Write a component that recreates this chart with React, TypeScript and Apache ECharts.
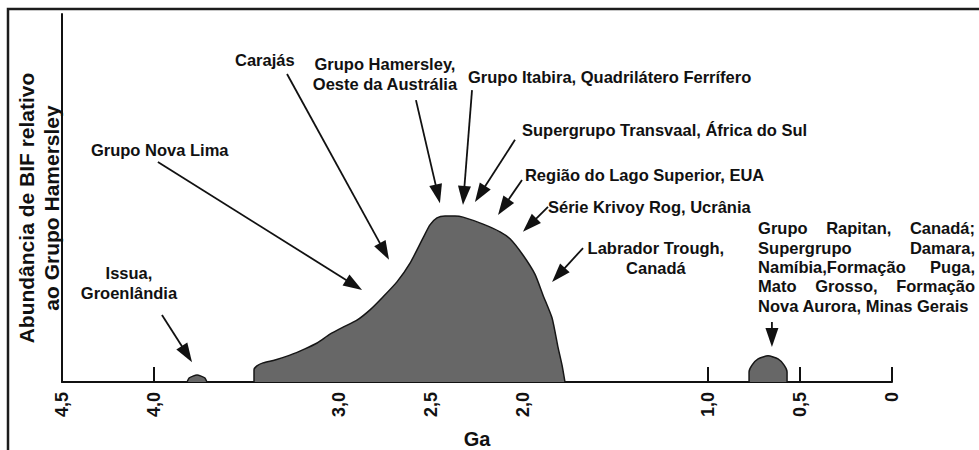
import React, { useEffect, useRef } from 'react';
import * as echarts from 'echarts';

// ---- axis ticks (Ga) ----
const tickValues = [4.5, 4.0, 3.0, 2.5, 2.0, 1.0, 0.5, 0];
const tickLabels = ['4,5', '4,0', '3,0', '2,5', '2,0', '1,0', '0,5', '0'];

// ---- BIF abundance outlines (Ga, relative abundance 0-100) ----
const issuaGa = [3.822, 3.811, 3.79, 3.768, 3.746, 3.725, 3.714];
const issuaAbund = [0, 1.1, 1.6, 1.9, 1.6, 1.1, 0];

const mainGa = [3.459, 3.459, 3.443, 3.41, 3.345, 3.264, 3.183, 3.117, 3.047, 2.976, 2.901, 2.83, 2.76, 2.684, 2.613, 2.543, 2.505, 2.467, 2.423, 2.369, 2.326, 2.217, 2.125, 2.071, 2.001, 1.936, 1.892, 1.843, 1.811, 1.789, 1.773];
const mainAbund = [0, 3.3, 4.4, 5.2, 6.0, 7.3, 9.0, 10.6, 13.0, 14.9, 16.8, 19.6, 23.1, 27.2, 32.3, 39.1, 42.7, 44.6, 45.1, 45.1, 44.8, 42.9, 40.8, 38.9, 34.5, 29.3, 23.6, 17.4, 9.5, 4.6, 0];

const rapitanGa = [0.775, 0.775, 0.759, 0.726, 0.672, 0.618, 0.585, 0.569, 0.569];
const rapitanAbund = [0, 2.7, 4.6, 6.3, 7.1, 6.3, 4.6, 2.7, 0];

// ---- annotations (anchor in Ga / abundance) ----
const labelTexts = [
  'Issua,\nGroenlândia',
  'Grupo Nova Lima',
  'Carajás',
  'Grupo Hamersley,\nOeste da Austrália',
  'Grupo Itabira, Quadrilátero Ferrífero',
  'Supergrupo Transvaal, África do Sul',
  'Região do Lago Superior, EUA',
  'Série Krivoy Rog, Ucrânia',
  'Labrador Trough,\nCanadá',
];
const labelGa = [4.137, 4.343, 3.562, 2.749, 2.299, 2.006, 1.99, 1.865, 1.28];
const labelAbund = [26.9, 63.0, 87.5, 83.6, 82.9, 68.5, 56.3, 47.6, 33.6];
const labelAlign = ['center', 'left', 'left', 'center', 'left', 'left', 'left', 'left', 'center'];

// arrows: from (Ga, abundance) to tip (Ga, abundance)
const arrowFromGa = [3.958, 3.98, 3.28, 2.581, 2.277, 2.044, 2.006, 1.865, 1.675, 0.651];
const arrowFromAbund = [18.2, 59.8, 83.7, 76.6, 79.3, 65.8, 54.9, 47.6, 36.4, 16.3];
const arrowToGa = [3.795, 2.873, 2.727, 2.451, 2.326, 2.261, 2.136, 2.001, 1.843, 0.651];
const arrowToAbund = [5.4, 25.0, 33.2, 48.6, 48.1, 48.9, 45.4, 40.8, 27.2, 9.5];

// justified block for the Neoproterozoic BIFs
const rapitanLines = [
  'Grupo Rapitan, Canadá;',
  'Supergrupo Damara,',
  'Namíbia,Formação Puga,',
  'Mato Grosso, Formação',
  'Nova Aurora, Minas Gerais',
];
const rapitanJustify = [true, true, true, true, false];
const rapitanLeftGa = 0.726;
const rapitanRightGa = -0.45;
const rapitanTopAbund = 41.8;

export default function App() {
  const ref = useRef<HTMLDivElement>(null);

  useEffect(() => {
    const el = ref.current as HTMLDivElement;
    const chart = echarts.init(el, null, { renderer: 'svg' });
    const family = "'Liberation Sans', Arial, Helvetica, sans-serif";
    const ink = '#111111';
    const fill = '#676767';
    const edge = '#161616';
    const annFont = `bold 16.5px ${family}`;

    const blob = (name: string, ga: number[], ab: number[]) => ({
      type: 'line',
      name,
      data: ga.map((g, i) => [g, ab[i]]),
      smooth: 0.2,
      symbol: 'none',
      silent: true,
      z: 3,
      lineStyle: { color: edge, width: 1.5 },
      areaStyle: { color: fill, opacity: 1 },
    });

    chart.setOption({
      animation: false,
      grid: { left: 62, right: 87, top: 14, bottom: 68, outerBoundsMode: 'none' },
      xAxis: {
        type: 'value',
        min: 0,
        max: 4.5,
        inverse: true,
        position: 'bottom',
        name: 'Ga',
        nameLocation: 'middle',
        nameGap: 47,
        nameTextStyle: { fontFamily: family, fontWeight: 'bold', fontSize: 20, color: ink },
        axisLine: { show: true, onZero: false, lineStyle: { color: ink, width: 2 } },
        axisTick: {
          show: true,
          inside: true,
          length: 15,
          customValues: tickValues,
          lineStyle: { color: ink, width: 2 },
        },
        axisLabel: {
          show: true,
          rotate: 90,
          margin: 10,
          customValues: tickValues,
          formatter: (v: number) => {
            const i = tickValues.findIndex((t) => Math.abs(t - v) < 1e-6);
            return i >= 0 ? tickLabels[i] : '';
          },
          fontFamily: family,
          fontWeight: 'bold',
          fontSize: 18,
          color: ink,
        },
        splitLine: { show: false },
      },
      yAxis: {
        type: 'value',
        min: 0,
        max: 100,
        position: 'left',
        axisLine: { show: true, onZero: false, lineStyle: { color: ink, width: 2 } },
        axisTick: { show: false },
        axisLabel: { show: false },
        splitLine: { show: false },
      },
      series: [
        blob('Issua', issuaGa, issuaAbund),
        blob('Paleoproterozoico', mainGa, mainAbund),
        blob('Neoproterozoico', rapitanGa, rapitanAbund),
      ],
    });

    const px = (g: number, a: number) =>
      chart.convertToPixel({ gridIndex: 0 }, [g, a]) as number[];

    const graphics: any[] = [];

    // outer frame
    graphics.push({
      type: 'rect',
      silent: true,
      shape: { x: 8, y: 9, width: 1000, height: 480 },
      style: { fill: 'none', stroke: '#1c1c1c', lineWidth: 2.5 },
    });

    // y axis title
    const yTop = px(0, 100)[1];
    const yBot = px(0, 0)[1];
    graphics.push({
      type: 'text',
      silent: true,
      x: 39,
      y: (yTop + yBot) / 2 + 10,
      rotation: Math.PI / 2,
      style: {
        text: 'Abundância de BIF relativo\nao Grupo Hamersley',
        font: `bold 21px ${family}`,
        fill: ink,
        align: 'center',
        verticalAlign: 'middle',
        lineHeight: 25,
      },
    });

    // annotation labels
    labelTexts.forEach((t, i) => {
      const p = px(labelGa[i], labelAbund[i]);
      graphics.push({
        type: 'text',
        silent: true,
        x: p[0],
        y: p[1],
        style: {
          text: t,
          font: annFont,
          fill: ink,
          align: labelAlign[i],
          verticalAlign: 'middle',
          lineHeight: 20,
        },
      });
    });

    // arrows
    const headLen = 19;
    const headHalf = 6.5;
    arrowFromGa.forEach((_, i) => {
      const a = px(arrowFromGa[i], arrowFromAbund[i]);
      const b = px(arrowToGa[i], arrowToAbund[i]);
      const dx = b[0] - a[0];
      const dy = b[1] - a[1];
      const len = Math.hypot(dx, dy) || 1;
      const ux = dx / len;
      const uy = dy / len;
      const bx = b[0] - ux * headLen;
      const by = b[1] - uy * headLen;
      graphics.push({
        type: 'line',
        silent: true,
        shape: { x1: a[0], y1: a[1], x2: bx + ux * 2, y2: by + uy * 2 },
        style: { stroke: ink, lineWidth: 1.8 },
      });
      graphics.push({
        type: 'polygon',
        silent: true,
        shape: {
          points: [
            [b[0], b[1]],
            [bx - uy * headHalf, by + ux * headHalf],
            [bx + uy * headHalf, by - ux * headHalf],
          ],
        },
        style: { fill: ink },
      });
    });

    // justified Rapitan block
    const canvas = document.createElement('canvas');
    const ctx = canvas.getContext('2d') as CanvasRenderingContext2D;
    ctx.font = annFont;
    const left = px(rapitanLeftGa, rapitanTopAbund);
    const right = px(rapitanRightGa, rapitanTopAbund);
    const blockW = right[0] - left[0];
    const lineGap = 19.4;
    rapitanLines.forEach((line, li) => {
      const y = left[1] + li * lineGap;
      if (!rapitanJustify[li]) {
        graphics.push({
          type: 'text',
          silent: true,
          x: left[0],
          y,
          style: { text: line, font: annFont, fill: ink, align: 'left', verticalAlign: 'middle' },
        });
        return;
      }
      const words = line.split(' ');
      const widths = words.map((w) => ctx.measureText(w).width);
      const total = widths.reduce((s, w) => s + w, 0);
      const gap = words.length > 1 ? (blockW - total) / (words.length - 1) : 0;
      let x = left[0];
      words.forEach((w, wi) => {
        graphics.push({
          type: 'text',
          silent: true,
          x,
          y,
          style: { text: w, font: annFont, fill: ink, align: 'left', verticalAlign: 'middle' },
        });
        x += widths[wi] + gap;
      });
    });

    chart.setOption({ graphic: graphics });

    return () => {
      chart.dispose();
    };
  }, []);

  return (
    <div
      ref={ref}
      style={{ position: 'fixed', left: 0, top: 0, width: 979, height: 450, background: '#ffffff' }}
    />
  );
}
